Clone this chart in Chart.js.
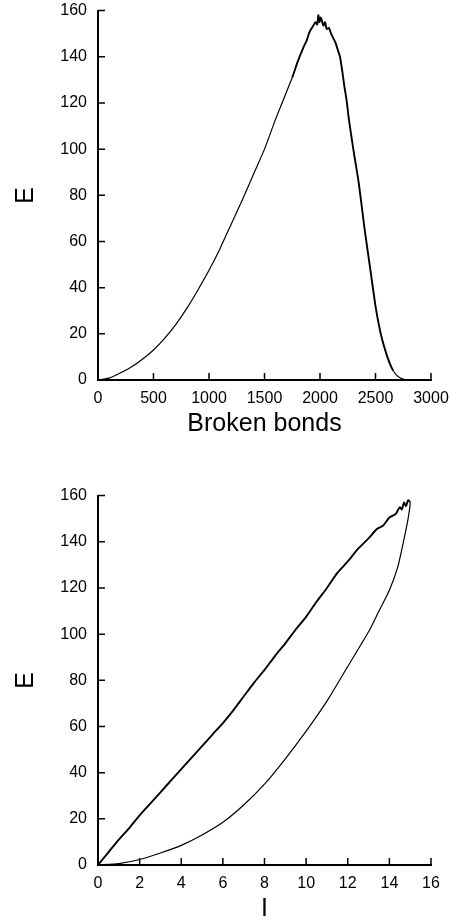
<!DOCTYPE html>
<html>
<head>
<meta charset="utf-8">
<script src="https://cdn.jsdelivr.net/npm/chart.js@4/dist/chart.umd.min.js"></script>
<style>
  html, body { margin: 0; padding: 0; background: #fff; overflow: hidden; }
  .box { position: absolute; left: 0; width: 461px; height: 447px; }
</style>
</head>
<body>
<div class="box" style="top:-10px"><canvas id="bondsChart" width="461" height="447"></canvas></div>
<div class="box" style="top:475px"><canvas id="loopChart" width="461" height="447"></canvas></div>
<script>
// E against number of broken bonds
const brokenBonds = [0, 100, 200, 300, 400, 500, 600, 700, 800, 900, 1000, 1100, 1200, 1300, 1400, 1500, 1600, 1700,
  1750, 1800, 1850, 1880, 1900, 1920, 1940, 1960, 1975, 1985, 1995, 2005, 2015, 2030, 2045, 2060, 2080, 2100,
  2120, 2140, 2160, 2180, 2200, 2220, 2240, 2260, 2300, 2350, 2400, 2450, 2500, 2530, 2560, 2600, 2630, 2660,
  2700, 2740, 2780, 2800];
const energyBonds = [0, 0.8, 3, 5.6, 9, 13, 18, 24, 31, 39, 47.5, 57, 67.5, 78, 89, 100, 113, 125,
  131, 138, 144, 147, 150, 152, 153.5, 155, 154, 158, 155, 157, 156, 153.5, 155, 152, 152.5, 150,
  148, 146, 143, 140, 134, 127, 121, 113, 100, 85, 66, 49, 32, 24, 17.5, 11, 7, 4,
  1.6, 0.5, 0, 0];

// E against I: loading branch then the noisy return branch
const loopI = [0, 1, 2, 3, 4, 5, 6, 7, 8, 9, 10, 11, 12, 13, 13.5, 14, 14.4, 14.7, 14.9, 15.0,
  14.9, 14.8, 14.7, 14.6, 14.5, 14.3, 14.0, 13.7, 13.4, 13.0, 12.5, 12.0, 11.5, 11.0, 10.5, 10.0, 9.5, 9.0,
  8.5, 8.0, 7.5, 7.0, 6.5, 6.0, 5.5, 5.0, 4.5, 4.0, 3.5, 3.0, 2.5, 2.0, 1.5, 1.0, 0.5, 0];
const loopE = [0, 0.6, 2.4, 5.2, 8.5, 13, 18.5, 26, 35, 46, 58, 71, 86, 101, 110, 119, 129, 141, 150, 157,
  158, 155.5, 157, 154, 155, 152, 150.5, 147, 145.5, 141.5, 137, 131.5, 126.5, 120, 114, 107.5, 102, 96,
  90.5, 84.5, 79, 73, 67, 61.5, 56.5, 51.5, 46.5, 41.5, 36.5, 31.5, 26.5, 21.5, 16, 11, 5.5, 0];

const eTicks = [0, 20, 40, 60, 80, 100, 120, 140, 160];
const bondTicks = [0, 500, 1000, 1500, 2000, 2500, 3000];
const iTicks = [0, 2, 4, 6, 8, 10, 12, 14, 16];

const FONT = 'Liberation Sans, Arial, Helvetica, sans-serif';

// tick marks pointing into the plot
const innerTicks = {
  id: 'innerTicks',
  afterDraw(chart) {
    const { ctx, chartArea: a, scales: { x, y } } = chart;
    ctx.save();
    ctx.strokeStyle = '#000';
    ctx.lineWidth = 1.5;
    ctx.beginPath();
    x.ticks.forEach(t => {
      const px = x.getPixelForValue(t.value);
      ctx.moveTo(px, a.bottom);
      ctx.lineTo(px, a.bottom - 7);
    });
    y.ticks.forEach(t => {
      const py = y.getPixelForValue(t.value);
      ctx.moveTo(a.left, py);
      ctx.lineTo(a.left + 7, py);
    });
    ctx.stroke();
    ctx.restore();
  }
};

// noisy stretch of each curve drawn a little heavier
function makeChart(id, points, xMax, xTicks, xTitle, isNoisy) {
  return new Chart(document.getElementById(id).getContext('2d'), {
    type: 'scatter',
    data: {
      datasets: [{
        data: points,
        showLine: true,
        borderColor: '#000',
        borderWidth: 1.2,
        segment: { borderWidth: c => isNoisy(c.p0DataIndex, c.p0.parsed) ? 1.9 : 1.2 },
        pointRadius: 0,
        tension: 0.2,
        fill: false
      }]
    },
    options: {
      responsive: false,
      animation: false,
      layout: { padding: { top: 0, right: 30, left: 0, bottom: 0 } },
      plugins: { legend: { display: false }, tooltip: { enabled: false } },
      scales: {
        x: {
          type: 'linear',
          min: 0,
          max: xMax,
          afterBuildTicks: s => { s.ticks = xTicks.map(v => ({ value: v })); },
          afterFit: s => { s.height = 57; },
          grid: { display: false, drawTicks: false },
          border: { display: true, color: '#000', width: 2 },
          ticks: { color: '#000', font: { family: FONT, size: 16 }, padding: 9, autoSkip: false, maxRotation: 0,
            callback: v => String(v) },
          title: { display: true, text: xTitle, color: '#000', font: { family: FONT, size: 25, lineHeight: 1 }, padding: 0 }
        },
        y: {
          type: 'linear',
          min: 0,
          max: 160,
          afterBuildTicks: s => { s.ticks = eTicks.map(v => ({ value: v })); },
          afterFit: s => { s.width = 98; },
          grid: { display: false, drawTicks: false },
          border: { display: true, color: '#000', width: 2 },
          ticks: { color: '#000', font: { family: FONT, size: 16 }, padding: 11, autoSkip: false,
            callback: v => String(v) },
          title: { display: true, text: 'E', color: '#000', font: { family: FONT, size: 25, lineHeight: 1 }, padding: { top: 13.5, bottom: 0 } }
        }
      }
    },
    plugins: [innerTicks]
  });
}

document.addEventListener('DOMContentLoaded', () => {
  const bondPoints = brokenBonds.map((b, i) => ({ x: b, y: energyBonds[i] }));
  const loopPoints = loopI.map((v, i) => ({ x: v, y: loopE[i] }));
  makeChart('bondsChart', bondPoints, 3000, bondTicks, 'Broken bonds', (i, p) => p.x >= 1750 && p.x < 2650);
  makeChart('loopChart', loopPoints, 16, iTicks, 'I', i => i >= 19);
});
</script>
</body>
</html>
